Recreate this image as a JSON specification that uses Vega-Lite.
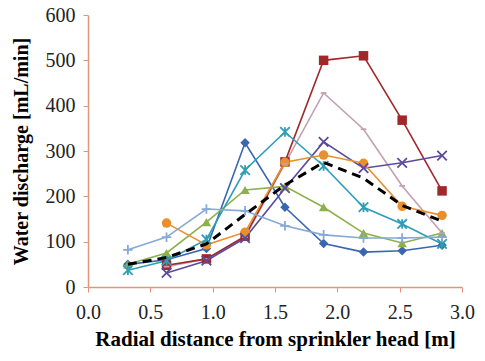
{
  "$schema": "https://vega.github.io/schema/vega-lite/v6.json",
  "width": 374,
  "height": 272,
  "autosize": "none",
  "padding": {"left": 88, "top": 15, "right": 23, "bottom": 74},
  "background": "white",
  "config": {"view": {"stroke": null}, "font": "Liberation Serif"},
  "resolve": {"scale": {"shape": "independent"}},
  "data": {"values": [
    {"s": "S1", "x": 0.32, "y": 50}, {"s": "S1", "x": 0.63, "y": 60}, {"s": "S1", "x": 0.95, "y": 85}, {"s": "S1", "x": 1.26, "y": 318}, {"s": "S1", "x": 1.58, "y": 176}, {"s": "S1", "x": 1.89, "y": 96}, {"s": "S1", "x": 2.21, "y": 77}, {"s": "S1", "x": 2.52, "y": 80}, {"s": "S1", "x": 2.84, "y": 92},
    {"s": "S8", "x": 0.63, "y": 45}, {"s": "S8", "x": 0.95, "y": 62}, {"s": "S8", "x": 1.26, "y": 110}, {"s": "S8", "x": 1.58, "y": 272}, {"s": "S8", "x": 1.89, "y": 428}, {"s": "S8", "x": 2.21, "y": 348}, {"s": "S8", "x": 2.52, "y": 223}, {"s": "S8", "x": 2.84, "y": 119},
    {"s": "S2", "x": 0.63, "y": 48}, {"s": "S2", "x": 0.95, "y": 62}, {"s": "S2", "x": 1.26, "y": 112}, {"s": "S2", "x": 1.58, "y": 276}, {"s": "S2", "x": 1.89, "y": 500}, {"s": "S2", "x": 2.21, "y": 510}, {"s": "S2", "x": 2.52, "y": 368}, {"s": "S2", "x": 2.84, "y": 212},
    {"s": "S3", "x": 0.32, "y": 50}, {"s": "S3", "x": 0.63, "y": 75}, {"s": "S3", "x": 0.95, "y": 143}, {"s": "S3", "x": 1.26, "y": 214}, {"s": "S3", "x": 1.58, "y": 222}, {"s": "S3", "x": 1.89, "y": 176}, {"s": "S3", "x": 2.21, "y": 119}, {"s": "S3", "x": 2.52, "y": 97}, {"s": "S3", "x": 2.84, "y": 119},
    {"s": "S4", "x": 0.63, "y": 31}, {"s": "S4", "x": 0.95, "y": 58}, {"s": "S4", "x": 1.26, "y": 108}, {"s": "S4", "x": 1.58, "y": 218}, {"s": "S4", "x": 1.89, "y": 320}, {"s": "S4", "x": 2.21, "y": 262}, {"s": "S4", "x": 2.52, "y": 274}, {"s": "S4", "x": 2.84, "y": 290},
    {"s": "S5", "x": 0.32, "y": 37}, {"s": "S5", "x": 0.63, "y": 58}, {"s": "S5", "x": 0.95, "y": 105}, {"s": "S5", "x": 1.26, "y": 258}, {"s": "S5", "x": 1.58, "y": 342}, {"s": "S5", "x": 1.89, "y": 267}, {"s": "S5", "x": 2.21, "y": 176}, {"s": "S5", "x": 2.52, "y": 139}, {"s": "S5", "x": 2.84, "y": 95},
    {"s": "S6", "x": 0.63, "y": 141}, {"s": "S6", "x": 0.95, "y": 93}, {"s": "S6", "x": 1.26, "y": 121}, {"s": "S6", "x": 1.58, "y": 275}, {"s": "S6", "x": 1.89, "y": 291}, {"s": "S6", "x": 2.21, "y": 273}, {"s": "S6", "x": 2.52, "y": 178}, {"s": "S6", "x": 2.84, "y": 158},
    {"s": "S7", "x": 0.32, "y": 82}, {"s": "S7", "x": 0.63, "y": 110}, {"s": "S7", "x": 0.95, "y": 172}, {"s": "S7", "x": 1.26, "y": 168}, {"s": "S7", "x": 1.58, "y": 135}, {"s": "S7", "x": 1.89, "y": 115}, {"s": "S7", "x": 2.21, "y": 108}, {"s": "S7", "x": 2.52, "y": 108}, {"s": "S7", "x": 2.84, "y": 110}
  ]},
  "layer": [
    {
      "mark": {"type": "line", "strokeWidth": 1.6},
      "encoding": {
        "x": {"field": "x", "type": "quantitative", "scale": {"domain": [0, 3], "nice": false},
          "axis": {"title": "Radial distance from sprinkler  head [m]", "values": [0, 0.5, 1, 1.5, 2, 2.5, 3], "format": ".1f", "grid": false, "labelFlush": false,
            "domainColor": "#E3957A", "tickColor": "#E3957A", "tickSize": 5, "domainWidth": 1.5,
            "labelFont": "Liberation Serif", "labelFontSize": 20, "labelColor": "#222222", "labelPadding": 10,
            "titleFont": "Liberation Serif", "titleFontSize": 21, "titleFontWeight": "bold", "titleColor": "#000000", "titlePadding": 6}},
        "y": {"field": "y", "type": "quantitative", "scale": {"domain": [0, 600], "nice": false},
          "axis": {"title": "Water discharge [mL/min]", "values": [0, 100, 200, 300, 400, 500, 600], "grid": false, "labelFlush": false,
            "domainColor": "#E3957A", "tickColor": "#E3957A", "tickSize": 5, "domainWidth": 1.5,
            "labelFont": "Liberation Serif", "labelFontSize": 20, "labelColor": "#222222", "labelPadding": 8,
            "titleFont": "Liberation Serif", "titleFontSize": 20, "titleFontWeight": "bold", "titleColor": "#000000", "titlePadding": 14}},
        "color": {"field": "s", "type": "nominal", "legend": null,
          "scale": {"domain": ["S1", "S2", "S3", "S4", "S5", "S6", "S7", "S8"],
            "range": ["#3A66AE", "#A0282A", "#8DB04A", "#5B4A9D", "#2E9EB5", "#E8902E", "#86A9D8", "#C4A0B0"]}},
        "detail": {"field": "s"}
      }
    },
    {
      "transform": [{"filter": "indexof(['S1','S2','S3','S6'], datum.s) >= 0"}],
      "mark": {"type": "point", "filled": true, "size": 90, "opacity": 1},
      "encoding": {
        "x": {"field": "x", "type": "quantitative"},
        "y": {"field": "y", "type": "quantitative"},
        "color": {"field": "s", "type": "nominal", "legend": null},
        "shape": {"field": "s", "type": "nominal", "legend": null,
          "scale": {"domain": ["S1", "S2", "S3", "S6"], "range": ["diamond", "square", "triangle-up", "circle"]}}
      }
    },
    {
      "transform": [{"filter": "indexof(['S4','S5','S7','S8'], datum.s) >= 0"}],
      "mark": {"type": "point", "filled": false, "size": 90, "strokeWidth": 1.8, "opacity": 1},
      "encoding": {
        "x": {"field": "x", "type": "quantitative"},
        "y": {"field": "y", "type": "quantitative"},
        "color": {"field": "s", "type": "nominal", "legend": null},
        "shape": {"field": "s", "type": "nominal", "legend": null,
          "scale": {"domain": ["S4", "S5", "S7", "S8"], "range": ["M-1,-1L1,1M-1,1L1,-1", "M-1,-1L1,1M-1,1L1,-1M0,-1L0,1", "M-1,0L1,0M0,-1L0,1", "M-0.6,0L0.6,0"]}}
      }
    },
    {
      "data": {"values": [
        {"x": 0.32, "y": 50}, {"x": 0.63, "y": 65}, {"x": 0.95, "y": 95}, {"x": 1.26, "y": 160}, {"x": 1.58, "y": 225}, {"x": 1.89, "y": 275}, {"x": 2.21, "y": 240}, {"x": 2.52, "y": 180}, {"x": 2.84, "y": 145}
      ]},
      "mark": {"type": "line", "color": "#000000", "strokeWidth": 3, "strokeDash": [9, 6]},
      "encoding": {
        "x": {"field": "x", "type": "quantitative"},
        "y": {"field": "y", "type": "quantitative"}
      }
    }
  ]
}
